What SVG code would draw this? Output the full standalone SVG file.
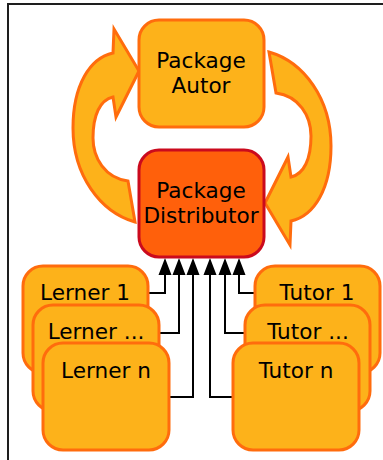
<svg xmlns="http://www.w3.org/2000/svg" width="383" height="460" viewBox="0 0 383 460">
<defs>
<style>
.box{fill:#fdb21a;stroke:#ff6c0d;stroke-width:3}
.dist{fill:#ff600b;stroke:#cb0a1d;stroke-width:3}
.big{fill:#fdb21a;stroke:#ff6c0d;stroke-width:3;stroke-linejoin:miter}
.lbl{font-family:"DejaVu Sans",sans-serif;font-size:21.6px;fill:#000;text-anchor:middle}
.sm{font-family:"DejaVu Sans",sans-serif;font-size:21.6px;fill:#000;text-anchor:middle}
.con{fill:none;stroke:#000;stroke-width:2}
</style>
<path id="curl" d="M113,53 C90,58 73,85 73,128 C73,175 100,212 135,222 L128,181 C105,178 93,158 93,138 C93,115 100,100 113,97 L116,117 L139,71 L114,29 Z"/>
</defs>
<rect x="8" y="4" width="400" height="480" fill="#fff" stroke="#1e1e1e" stroke-width="2"/>
<g id="connectors">
<use href="#curl" class="big"/>
<use href="#curl" class="big" transform="rotate(180 202 137)"/>
<path class="con" d="M148,293 H165 V274"/>
<path class="con" d="M159,333 H179 V274"/>
<path class="con" d="M169,397 H193 V274"/>
<path class="con" d="M233,397 H210 V274"/>
<path class="con" d="M245,333 H225 V274"/>
<path class="con" d="M255,293 H239 V274"/>
<path d="M158.5,275 L165,258 L171.5,275 Z M172.5,275 L179,258 L185.5,275 Z M186.5,275 L193,258 L199.5,275 Z M203.5,275 L210,258 L216.5,275 Z M218.5,275 L225,258 L231.5,275 Z M232.5,275 L239,258 L245.5,275 Z" fill="#000"/>
</g>
<g id="package-autor">
<rect class="box" x="139" y="20" width="125" height="107" rx="20"/>
<text class="lbl" x="201" y="68">Package</text>
<text class="lbl" x="201" y="93">Autor</text>
</g>
<g id="package-distributor">
<rect class="dist" x="139" y="150" width="125" height="107" rx="20"/>
<text class="lbl" x="201" y="198">Package</text>
<text class="lbl" x="201" y="223">Distributor</text>
</g>
<g id="lerner-1">
<rect class="box" x="23" y="266" width="125" height="107" rx="20"/>
<text class="sm" x="85" y="300">Lerner 1</text>
</g>
<g id="lerner-dots">
<rect class="box" x="33" y="305" width="126" height="106" rx="20"/>
<text class="sm" x="96" y="339">Lerner ...</text>
</g>
<g id="lerner-n">
<rect class="box" x="43" y="343" width="126" height="107" rx="20"/>
<text class="sm" x="106" y="378">Lerner n</text>
</g>
<g id="tutor-1">
<rect class="box" x="255" y="266" width="125" height="107" rx="20"/>
<text class="sm" x="317" y="300">Tutor 1</text>
</g>
<g id="tutor-dots">
<rect class="box" x="245" y="305" width="125" height="106" rx="20"/>
<text class="sm" x="308" y="339">Tutor ...</text>
</g>
<g id="tutor-n">
<rect class="box" x="233" y="343" width="126" height="107" rx="20"/>
<text class="sm" x="296" y="378">Tutor n</text>
</g>
</svg>
